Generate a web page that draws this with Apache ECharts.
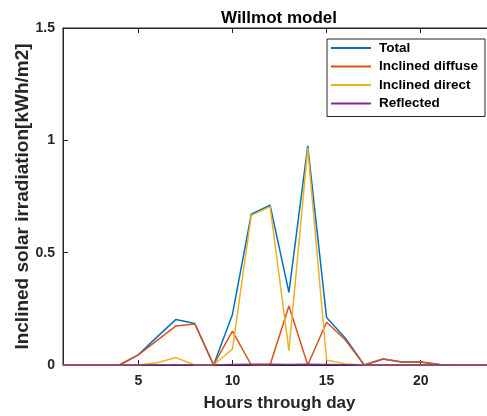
<!DOCTYPE html>
<html>
<head>
<meta charset="utf-8">
<script src="https://cdn.jsdelivr.net/npm/echarts@6/dist/echarts.min.js"></script>
<style>
  html, body { margin: 0; padding: 0; background: #fff; }
  #chart { width: 487px; height: 416px; }
</style>
</head>
<body>
<div id="chart"></div>
<script>
// Hour of day
const hours = [1,2,3,4,5,6,7,8,9,10,11,12,13,14,15,16,17,18,19,20,21,22,23,24];
// Irradiation components [kWh/m2]
const total    = [0,0,0,0,0.045,0.125,0.203,0.185,0,0.225,0.671,0.711,0.323,0.975,0.211,0.119,0,0.027,0.013,0.013,0.002,0,0,0];
const diffuse  = [0,0,0,0,0.045,0.11,0.174,0.183,0,0.151,0,0,0.263,0,0.19,0.111,0,0.027,0.013,0.013,0.002,0,0,0];
const direct   = [0,0,0,0,0,0.01,0.033,0,0,0.071,0.666,0.705,0.064,0.964,0.022,0.005,0,0,0,0,0,0,0,0];
const reflected= [0,0,0,0,0,0,0,0,0,0.002,0.003,0.003,0.002,0.003,0.002,0.001,0,0,0,0,0,0,0,0];
const xTicks = [5,10,15,20];
const yTicks = [0,0.5,1,1.5];

const axisColor = '#262626';
const font = 'Arial, "Liberation Sans", sans-serif';

function pairs(ys) { return hours.map((h, i) => [h, ys[i]]); }

function line(name, ys, color) {
  return {
    name, type: 'line', data: pairs(ys), showSymbol: false, symbol: 'none',
    lineStyle: { color, width: 1.5 }, itemStyle: { color },
    emphasis: { disabled: true }, animation: false
  };
}

const chart = echarts.init(document.getElementById('chart'), null, { renderer: 'canvas' });
chart.setOption({
  backgroundColor: '#fff',
  animation: false,
  title: {
    text: 'Willmot model', left: 274, top: 5, textAlign: 'center',
    textStyle: { fontFamily: font, fontSize: 17, fontWeight: 'bold', color: '#000' }
  },
  grid: { left: 63, top: 28, right: -9, bottom: 51, outerBoundsMode: 'none', containLabel: false,
    show: true, borderColor: axisColor, borderWidth: 1 },
  legend: {
    orient: 'vertical', left: 327, top: 39,
    backgroundColor: '#fff', borderColor: axisColor, borderWidth: 1,
    padding: [2, 7, 6, 4], itemGap: 4.5, itemWidth: 40, itemHeight: 2, icon: 'rect',
    textStyle: { fontFamily: font, fontSize: 13.5, lineHeight: 14, fontWeight: 'bold', color: '#000', padding: [0, 0, 0, 3] },
    data: ['Total', 'Inclined diffuse', 'Inclined direct', 'Reflected']
  },
  xAxis: [{
    type: 'value', min: 1, max: 24,
    name: 'Hours through day', nameLocation: 'middle', nameGap: 30, nameMoveOverlap: false,
    nameTextStyle: { fontFamily: font, fontSize: 17, fontWeight: 'bold', color: axisColor },
    axisLine: { show: true, lineStyle: { color: axisColor } },
    axisTick: { show: true, inside: true, length: 5, customValues: xTicks, lineStyle: { color: axisColor } },
    axisLabel: { customValues: xTicks, fontFamily: font, fontSize: 14, fontWeight: 'bold', color: axisColor, margin: 9 },
    splitLine: { show: false }
  }, {
    type: 'value', min: 1, max: 24, position: 'top',
    axisLine: { show: true, lineStyle: { color: axisColor } },
    axisTick: { show: true, inside: true, length: 5, customValues: xTicks, lineStyle: { color: axisColor } },
    axisLabel: { show: false }, splitLine: { show: false }
  }],
  yAxis: [{
    type: 'value', min: 0, max: 1.5, interval: 0.5,
    name: 'Inclined solar irradiation[kWh/m2]', nameLocation: 'middle', nameGap: 31, nameRotate: 90,
    nameMoveOverlap: false,
    nameTextStyle: { fontFamily: font, fontSize: 19, fontWeight: 'bold', color: axisColor },
    axisLine: { show: true, lineStyle: { color: axisColor } },
    axisTick: { show: true, inside: true, length: 5, lineStyle: { color: axisColor } },
    axisLabel: { fontFamily: font, fontSize: 14, fontWeight: 'bold', color: axisColor, margin: 8,
      formatter: v => yTicks.includes(v) ? String(v) : '' },
    splitLine: { show: false }
  }],
  series: [
    line('Total', total, '#0072BD'),
    line('Inclined diffuse', diffuse, '#D95319'),
    line('Inclined direct', direct, '#EDB120'),
    line('Reflected', reflected, '#7E2F8E')
  ]
});
</script>
</body>
</html>
